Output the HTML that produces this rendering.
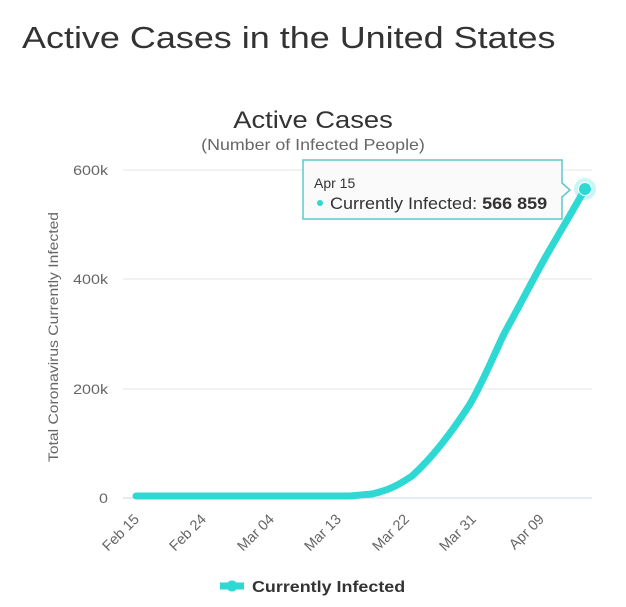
<!DOCTYPE html>
<html><head><style>
body{margin:0;background:#fff;width:626px;height:602px;overflow:hidden;font-family:"Liberation Sans",sans-serif;}
</style></head><body>
<svg width="626" height="602" xmlns="http://www.w3.org/2000/svg" font-family="Liberation Sans, sans-serif">
<text transform="translate(22,48) scale(1.16,1)" font-size="31" fill="#333">Active Cases in the United States</text>
<text transform="translate(313,128) scale(1.14,1)" font-size="24" fill="#333" text-anchor="middle">Active Cases</text>
<text transform="translate(313,150) scale(1.15,1)" font-size="15.5" fill="#666" text-anchor="middle">(Number of Infected People)</text>
<g stroke="#e6e6e6" stroke-width="1">
<line x1="123" y1="170" x2="592" y2="170"/>
<line x1="123" y1="279" x2="592" y2="279"/>
<line x1="123" y1="389" x2="592" y2="389"/>
<line x1="123" y1="498" x2="592" y2="498" stroke="#ccd6eb"/>
</g>
<g font-size="14" fill="#666" text-anchor="end">
<text transform="translate(108,175) scale(1.15,1)">600k</text>
<text transform="translate(108,284) scale(1.15,1)">400k</text>
<text transform="translate(108,394) scale(1.15,1)">200k</text>
<text transform="translate(108,503) scale(1.15,1)">0</text>
</g>
<text transform="translate(58,337) rotate(-90) scale(1.12,1)" font-size="14" fill="#666" text-anchor="middle">Total Coronavirus Currently Infected</text>
<g font-size="14.5" fill="#666" text-anchor="end">
<text transform="translate(140,520) rotate(-45)">Feb 15</text>
<text transform="translate(207,520) rotate(-45)">Feb 24</text>
<text transform="translate(275,520) rotate(-45)">Mar 04</text>
<text transform="translate(342,520) rotate(-45)">Mar 13</text>
<text transform="translate(410,520) rotate(-45)">Mar 22</text>
<text transform="translate(477,520) rotate(-45)">Mar 31</text>
<text transform="translate(545,520) rotate(-45)">Apr 09</text>
</g>
<path d="M136,496 L350,496 L372,494 C390,490 400,484 412,476 C432,458 452,432 470,404 C485,378 495,352 505,332 C520,305 530,285 545,258 C560,232 572,212 585,189" fill="none" stroke="#2ed8d3" stroke-width="7" stroke-linecap="round" stroke-linejoin="round"/>
<circle cx="585" cy="189" r="11" fill="#2ed8d3" opacity="0.25"/>
<circle cx="585" cy="189" r="6.5" fill="#2ed8d3" stroke="#fff" stroke-width="1"/>
<path d="M303,160 L562,160 L562,183 L570,190 L562,197 L562,219 L303,219 Z" fill="#fafafa" stroke="#5cc8cc" stroke-width="1.5"/>
<text x="314" y="188" font-size="14" fill="#333">Apr 15</text>
<circle cx="320" cy="203" r="3" fill="#2ed8d3"/>
<text transform="translate(330,209) scale(1.06,1)" font-size="17" fill="#333">Currently Infected: <tspan font-weight="bold">566 859</tspan></text>
<line x1="220" y1="586" x2="244" y2="586" stroke="#2ed8d3" stroke-width="7"/>
<circle cx="232" cy="586" r="5.5" fill="#2ed8d3"/>
<text transform="translate(252,592) scale(1.12,1)" font-size="16" font-weight="bold" fill="#333">Currently Infected</text>
</svg>
</body></html>
